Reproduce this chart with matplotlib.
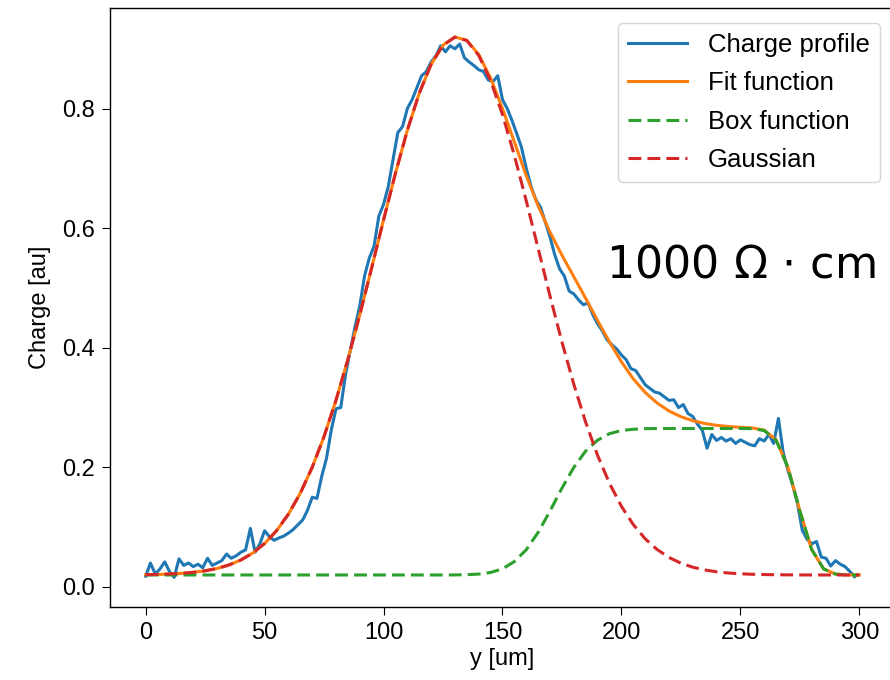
import numpy as np
import matplotlib
matplotlib.use('Agg')
import matplotlib.pyplot as plt

plt.rcParams.update({
    'font.family': ['Liberation Sans', 'DejaVu Sans'],
    'font.size': 17,
    'axes.linewidth': 1.0,
    'xtick.major.size': 6,
    'ytick.major.size': 6,
    'xtick.major.pad': 5,
    'ytick.major.pad': 5,
})

y_meas = np.arange(0, 300, 2)
charge = [
    0.018, 0.040, 0.022, 0.030, 0.042, 0.026, 0.016, 0.047, 0.036, 0.040,
    0.034, 0.038, 0.032, 0.048, 0.036, 0.040, 0.044, 0.055, 0.048, 0.052,
    0.058, 0.062, 0.098, 0.058, 0.072, 0.094, 0.084, 0.078, 0.082, 0.085,
    0.090, 0.096, 0.104, 0.112, 0.128, 0.150, 0.148, 0.185, 0.215, 0.262,
    0.298, 0.300, 0.355, 0.395, 0.435, 0.470, 0.520, 0.550, 0.570, 0.620,
    0.640, 0.670, 0.715, 0.760, 0.770, 0.800, 0.815, 0.835, 0.855, 0.862,
    0.878, 0.888, 0.905, 0.895, 0.905, 0.900, 0.908, 0.885, 0.878, 0.872,
    0.865, 0.862, 0.848, 0.845, 0.855, 0.815, 0.800, 0.780, 0.758, 0.735,
    0.700, 0.670, 0.648, 0.635, 0.610, 0.585, 0.555, 0.532, 0.520, 0.495,
    0.490, 0.480, 0.472, 0.475, 0.455, 0.440, 0.428, 0.413, 0.405, 0.398,
    0.388, 0.380, 0.365, 0.362, 0.350, 0.338, 0.332, 0.326, 0.324, 0.318,
    0.312, 0.313, 0.300, 0.305, 0.290, 0.285, 0.272, 0.262, 0.232, 0.255,
    0.245, 0.250, 0.244, 0.248, 0.240, 0.246, 0.242, 0.238, 0.236, 0.248,
    0.244, 0.255, 0.240, 0.282, 0.225, 0.195, 0.170, 0.140, 0.095, 0.080,
    0.072, 0.076, 0.050, 0.048, 0.035, 0.044, 0.038, 0.034, 0.026, 0.017,
]

# fitted curves (5 um steps)
y_fit = np.arange(0, 305, 5)
fit_total = [
    0.0205, 0.0209, 0.0216, 0.0227, 0.0244, 0.0270, 0.0309, 0.0367, 0.0450, 0.0567,
    0.0727, 0.0940, 0.1217, 0.1568, 0.2000, 0.2518, 0.3122, 0.3804, 0.4550, 0.5338,
    0.6139, 0.6919, 0.7638, 0.8257, 0.8741, 0.9061, 0.9197, 0.9143, 0.8905, 0.8510,
    0.8002, 0.7440, 0.6878, 0.6372, 0.5933, 0.5548, 0.5187, 0.4825, 0.4453, 0.4095,
    0.3764, 0.3479, 0.3252, 0.3076, 0.2943, 0.2847, 0.2780, 0.2734, 0.2703, 0.2683,
    0.2670, 0.2659, 0.2623, 0.2460, 0.2003, 0.1273, 0.0623, 0.0302, 0.0215, 0.0201,
    0.0200,
]
box = [
    0.0200, 0.0200, 0.0200, 0.0200, 0.0200, 0.0200, 0.0200, 0.0200, 0.0200, 0.0200,
    0.0200, 0.0200, 0.0200, 0.0200, 0.0200, 0.0200, 0.0200, 0.0200, 0.0200, 0.0200,
    0.0200, 0.0200, 0.0200, 0.0200, 0.0200, 0.0200, 0.0201, 0.0205, 0.0215, 0.0242,
    0.0302, 0.0424, 0.0623, 0.0913, 0.1272, 0.1653, 0.2001, 0.2275, 0.2456, 0.2564,
    0.2616, 0.2637, 0.2647, 0.2650, 0.2650, 0.2650, 0.2650, 0.2650, 0.2650, 0.2650,
    0.2650, 0.2647, 0.2616, 0.2456, 0.2001, 0.1272, 0.0623, 0.0302, 0.0215, 0.0201,
    0.0200,
]
gauss = [
    0.0205, 0.0209, 0.0216, 0.0227, 0.0244, 0.0270, 0.0309, 0.0367, 0.0450, 0.0567,
    0.0727, 0.0940, 0.1217, 0.1568, 0.2000, 0.2518, 0.3122, 0.3804, 0.4550, 0.5338,
    0.6139, 0.6919, 0.7638, 0.8257, 0.8741, 0.9061, 0.9196, 0.9138, 0.8890, 0.8468,
    0.7900, 0.7216, 0.6455, 0.5659, 0.4861, 0.4095, 0.3386, 0.2750, 0.2197, 0.1731,
    0.1348, 0.1042, 0.0805, 0.0626, 0.0493, 0.0397, 0.0330, 0.0284, 0.0253, 0.0233,
    0.0220, 0.0212, 0.0207, 0.0204, 0.0202, 0.0201, 0.0200, 0.0200, 0.0200, 0.0200,
    0.0200,
]

fig = plt.figure(figsize=(8.9, 6.8), dpi=100)
ax = fig.add_axes([0.1236, 0.1074, 0.882, 0.8806])

dash = (0, (4.2, 2.0))
ax.plot(y_meas, charge, color='C0', lw=2.2, label='Charge profile')
ax.plot(y_fit, fit_total, color='C1', lw=2.2, label='Fit function')
ax.plot(y_fit, box, color='C2', lw=2.2, ls=dash, label='Box function')
ax.plot(y_fit, gauss, color='C3', lw=2.2, ls=dash, label='Gaussian')

ax.set_xlim(-15, 315)
ax.set_ylim(-0.0335, 0.968)
ax.set_xticks([0, 50, 100, 150, 200, 250, 300])
ax.set_yticks([0.0, 0.2, 0.4, 0.6, 0.8])
ax.set_xlabel('y [um]', labelpad=3)
ax.set_ylabel('Charge [au]', labelpad=8)

leg = ax.legend(loc='upper right', bbox_to_anchor=(880 / 890, 1 - 23 / 680),
                bbox_transform=fig.transFigure, borderaxespad=0,
                fontsize=18.5, handlelength=2.3, labelspacing=0.55)

fig.text(606 / 890, 1 - 278 / 680, r'1000 $\Omega$ $\cdot$ cm', fontsize=32,
         family='DejaVu Sans', va='baseline', ha='left')

fig.savefig('out.png', dpi=100)
